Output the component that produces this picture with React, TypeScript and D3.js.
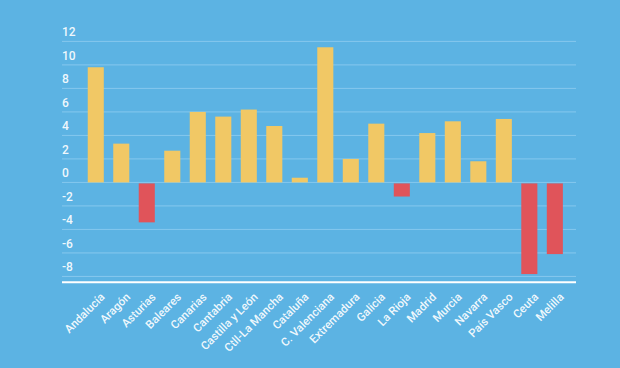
import React, { useEffect, useRef } from "react";
import * as d3 from "d3";

const regions = [
  "Andalucía", "Aragón", "Asturias", "Baleares", "Canarias", "Cantabria",
  "Castilla y León", "Ctll-La Mancha", "Cataluña", "C. Valenciana", "Extremadura",
  "Galicia", "La Rioja", "Madrid", "Murcia", "Navarra", "País Vasco", "Ceuta", "Melilla",
];
const values = [9.8, 3.3, -3.4, 2.7, 6.0, 5.6, 6.2, 4.8, 0.4, 11.5, 2.0, 5.0, -1.2, 4.2, 5.2, 1.8, 5.4, -7.8, -6.1];
const yTicks = [-8, -6, -4, -2, 0, 2, 4, 6, 8, 10, 12];

const W = 620, H = 368;

export default function App() {
  const ref = useRef<SVGSVGElement>(null);

  useEffect(() => {
    const svg = d3.select(ref.current);
    svg.selectAll("*").remove();

    svg.append("rect").attr("width", W).attr("height", H).attr("fill", "#5cb3e3");

    const x = d3.scaleBand().domain(regions).range([78.3, 572.3]).padding(0.37);
    const y = d3.scaleLinear().domain([-8.5, 12]).range([282.3, 41.4]);

    // gridlines
    svg.append("g").selectAll("line").data(yTicks).join("line")
      .attr("x1", 62).attr("x2", 576)
      .attr("y1", d => y(d)).attr("y2", d => y(d))
      .attr("stroke", "#86c8ee").attr("stroke-width", 1);

    // tick labels
    svg.append("g").selectAll("text").data(yTicks).join("text")
      .attr("x", 62).attr("y", d => y(d) - 5)
      .attr("fill", "#ffffff").attr("fill-opacity", 0.92)
      .attr("font-family", "Roboto, sans-serif").attr("font-weight", 500)
      .attr("font-size", 12)
      .text(d => d);

    // bars
    svg.append("g").selectAll("rect").data(values).join("rect")
      .attr("x", (d, i) => x(regions[i])!)
      .attr("width", x.bandwidth())
      .attr("y", d => y(Math.max(0, d)) + (d < 0 ? 1 : 0))
      .attr("height", d => Math.abs(y(d) - y(0)) - (d < 0 ? 1 : 0))
      .attr("fill", d => (d < 0 ? "#e0545a" : "#f1c865"));

    // axis line
    svg.append("line")
      .attr("x1", 62).attr("x2", 576)
      .attr("y1", y(-8.5)).attr("y2", y(-8.5))
      .attr("stroke", "#ffffff").attr("stroke-width", 2);

    // category labels
    svg.append("g").selectAll("text").data(regions).join("text")
      .attr("transform", d => `translate(${x(d)! + x.bandwidth() / 2 + 4},${292}) rotate(-45)`)
      .attr("text-anchor", "end")
      .attr("dy", "0.7em")
      .attr("fill", "#ffffff").attr("fill-opacity", 0.92)
      .attr("font-family", "Roboto, sans-serif").attr("font-weight", 500)
      .attr("font-size", 11.5)
      .text(d => d);
  }, []);

  return (
    <svg ref={ref} width={W} height={H}
      style={{ position: "absolute", left: 0, top: 0, display: "block" }} />
  );
}
